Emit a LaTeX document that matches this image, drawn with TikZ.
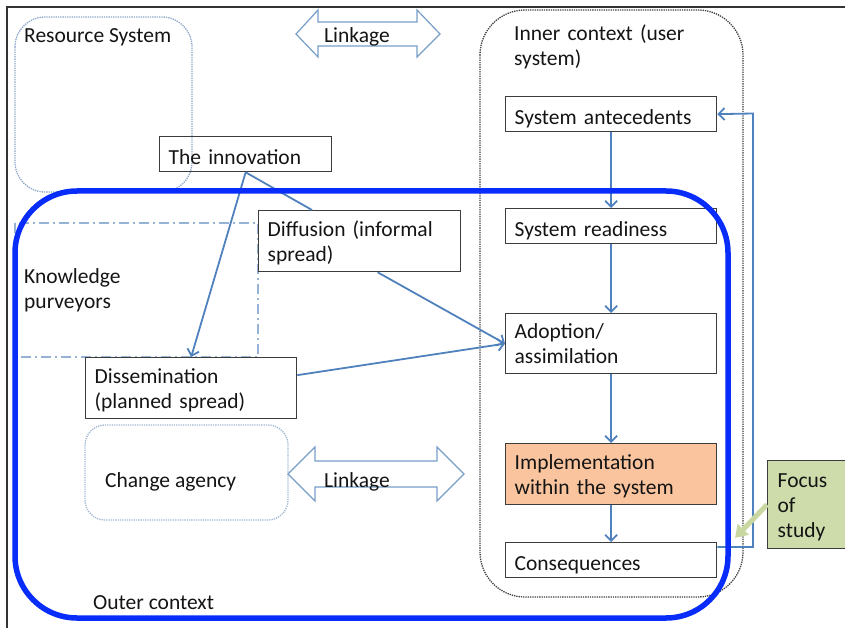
\documentclass[tikz,border=0pt]{standalone}
\usepackage{fontspec}
\setmainfont{Carlito}
\usetikzlibrary{arrows.meta,calc}
\definecolor{outerblue}{RGB}{8,45,250}
\definecolor{arrblue}{RGB}{79,129,189}
\definecolor{boxgray}{RGB}{60,60,60}
\definecolor{resblue}{RGB}{140,165,200}
\definecolor{knowblue}{RGB}{150,178,212}
\definecolor{linkblue}{RGB}{120,158,200}
\definecolor{implorange}{RGB}{250,196,158}
\definecolor{focusgreen}{RGB}{205,220,170}
\definecolor{focusarrow}{RGB}{200,216,160}
\definecolor{txt}{RGB}{20,20,20}
\begin{document}
\begin{tikzpicture}[x=1pt,y=-1pt, font=\fontsize{21.5}{25}\selectfont, text=txt,
 box/.style={draw=boxgray, line width=1.3pt, inner xsep=9pt, inner ysep=0pt, align=left, anchor=north west, text height=20pt, text depth=0pt},
 boxtwo/.style={box, text depth=30pt},
 arr/.style={draw=arrblue, line width=1.8pt, -{Straight Barb[length=6pt,width=12pt]}},
 plainline/.style={draw=arrblue, line width=1.8pt},
 link/.style={draw=linkblue, line width=1.2pt, fill=white, line join=miter},
 lbl/.style={inner sep=0pt, anchor=base west, align=left},
 region/.style={line width=1.3pt, densely dotted}]
\useasboundingbox (0,0) rectangle (845,628);

% frame
\draw[black!80, line width=1.8pt] (7,628) -- (7,7) -- (845,7);

% regions
\draw[region, resblue, rounded corners=30pt] (15,17) rectangle (192,192);
\draw[knowblue, line width=1.5pt, dash pattern=on 10pt off 4pt on 2pt off 4pt] (15,223) rectangle (258,357);
\draw[region, resblue!80, rounded corners=20pt] (85,425) rectangle (288,520);
\draw[region, black!75, rounded corners=45pt] (480,10) rectangle (743,597);

% linkage arrows
\draw[link] (296,34) -- (318,10) -- (318,22) -- (417,22) -- (417,10) -- (440,34) -- (417,57) -- (417,46) -- (318,46) -- (318,57) -- cycle;
\draw[link] (288,474) -- (315,447) -- (315,461) -- (437,461) -- (437,447) -- (464,474) -- (437,501) -- (437,487) -- (315,487) -- (315,501) -- cycle;

% free labels
\node[lbl] (res) at (24,43) {Resource System};
\node[lbl] (linkA) at (324,43) {Linkage};
\node[lbl] (linkB) at (324,487) {Linkage};
\node[lbl] (change) at (105,487) {Change agency};
\node[lbl] (outer) at (93,609) {Outer context};
\node[lbl, text width=120pt] (know) at (24,283) {Knowledge\\purveyors};
\node[lbl, text width=200pt] (inner) at (514,41) {Inner context (user\\system)};

% boxes
\node[box, text width=154pt, minimum height=35pt] (innov) at (159,136) {The innovation};
\node[boxtwo, text width=184pt, minimum height=61pt] (diff) at (258,210) {Diffusion (informal\\spread)};
\node[boxtwo, text width=193pt, minimum height=61pt] (dissem) at (85,357) {Dissemination\\(planned spread)};
\node[box, text width=193pt, minimum height=35pt] (ante) at (505,96) {System antecedents};
\node[box, text width=193pt, minimum height=35pt] (ready) at (505,208) {System readiness};
\node[boxtwo, text width=193pt, minimum height=60pt] (adopt) at (505,313) {Adoption/\\assimilation};
\node[boxtwo, fill=implorange, text width=193pt, minimum height=61pt] (impl) at (505,443) {Implementation\\within the system};
\node[box, text width=193pt, minimum height=35pt] (conseq) at (505,542) {Consequences};
\node[box, fill=focusgreen, inner xsep=10pt, text width=60pt, minimum height=88pt, text depth=55pt] (focus) at (767,460) {Focus\\of\\study};

% connectors
\draw[arr] (ante.south) -- (ready.north);
\draw[arr] (ready.south) -- (adopt.north);
\draw[arr] (adopt.south) -- (impl.north);
\draw[arr] (impl.south) -- (conseq.north);
\draw[arr] (innov.south) -- (dissem.north);
\draw[plainline] (innov.south) -- ($(diff.north west)+(54,0)$);
\draw[arr] ($(diff.south)+(18,0)$) -- (adopt.west);
\draw[arr] ($(dissem.east)+(0,-13)$) -- (adopt.west);
\coordinate (fbturn) at (753,113.5);
\draw[arr] ($(conseq.north east)+(0,5)$) -| (fbturn) -- (ante.east);
\coordinate (focustip) at (735,538);
\draw[focusarrow, line width=5pt, -{Triangle[length=12pt,width=15pt]}] (focus.west) -- (focustip);

% outer context
\draw[outerblue, line width=5.5pt, rounded corners=62pt] (15,191) rectangle (728,618);
\end{tikzpicture}
\end{document}
